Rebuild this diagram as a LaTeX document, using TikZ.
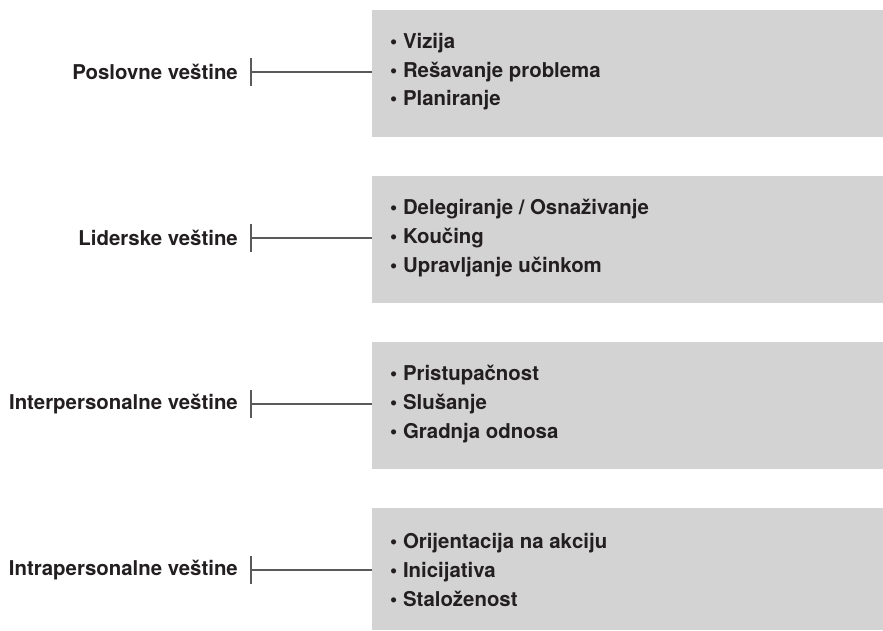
\documentclass[tikz,border=0pt]{standalone}
\usepackage{fontspec}
\setmainfont{TeX Gyre Heros}
\definecolor{boxgray}{HTML}{D3D3D3}
\definecolor{txt}{HTML}{231F20}
\definecolor{linegray}{HTML}{5A5A5A}
\begin{document}
\begin{tikzpicture}[x=1pt,y=-1pt,
  label/.style={anchor=east,inner sep=0pt,text=txt,font=\fontsize{20.4}{24}\selectfont\bfseries},
  skillbox/.style={rectangle,fill=boxgray,draw=none,minimum width=511pt,minimum height=127pt,anchor=north west,inner sep=0pt},
  items/.style={anchor=west,inner sep=0pt,align=left,text=txt,font=\fontsize{20.4}{28.6}\selectfont\bfseries},
  conn/.style={draw=linegray,line width=1.6pt}]
\useasboundingbox (0,0) rectangle (883,630);
\fill[white] (0,0) rectangle (883,630);
% row 1
\node[skillbox] (b1) at (372,10) {};
\node[items] (i1) at (390,72) {• Vizija\\• Rešavanje problema\\• Planiranje};
\node[label] (l1) at (238,72) {Poslovne veštine};
\coordinate (t1) at (251,72);
% row 2
\node[skillbox] (b2) at (372,176) {};
\node[items] (i2) at (390,238) {• Delegiranje / Osnaživanje\\• Koučing\\• Upravljanje učinkom};
\node[label] (l2) at (238,238) {Liderske veštine};
\coordinate (t2) at (251,238);
% row 3
\node[skillbox] (b3) at (372,342) {};
\node[items] (i3) at (390,404) {• Pristupačnost\\• Slušanje\\• Gradnja odnosa};
\node[label] (l3) at (238,404) {Interpersonalne veštine};
\coordinate (t3) at (251,404);
% row 4
\node[skillbox,minimum height=122pt] (b4) at (372,508) {};
\node[items] (i4) at (390,570) {• Orijentacija na akciju\\• Inicijativa\\• Staloženost};
\node[label] (l4) at (238,570) {Intrapersonalne veštine};
\coordinate (t4) at (251,570);
\foreach \i in {1,2,3,4}{
  \draw[conn] (t\i) -- (b\i.west |- t\i);
  \draw[conn] ([yshift=14pt]t\i) -- ([yshift=-14pt]t\i);
}
\end{tikzpicture}
\end{document}
